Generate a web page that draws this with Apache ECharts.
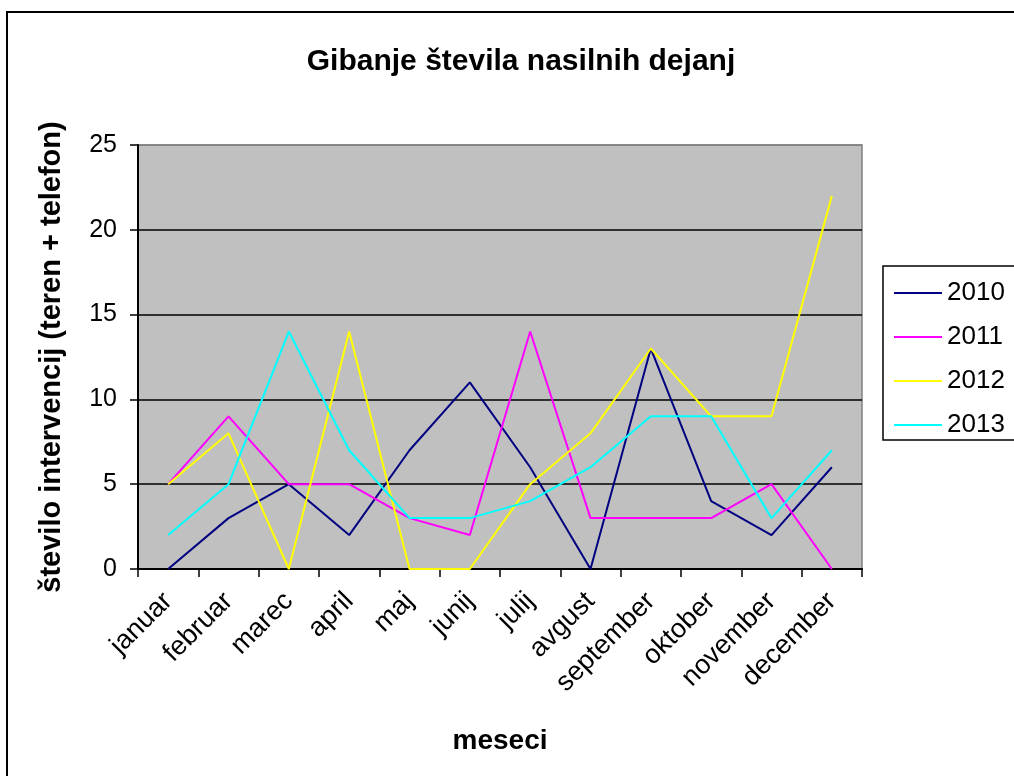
<!DOCTYPE html>
<html>
<head>
<meta charset="utf-8">
<script src="https://cdn.jsdelivr.net/npm/echarts@6/dist/echarts.min.js"></script>
<style>
  html, body { margin: 0; padding: 0; background: #fff; }
  #chart { width: 1014px; height: 776px; }
</style>
</head>
<body>
<div id="chart"></div>
<script>
// months on the x axis
const months = ["januar", "februar", "marec", "april", "maj", "junij", "julij", "avgust", "september", "oktober", "november", "december"];
// values per year
const y2010 = [0, 3, 5, 2, 7, 11, 6, 0, 13, 4, 2, 6];
const y2011 = [5, 9, 5, 5, 3, 2, 14, 3, 3, 3, 5, 0];
const y2012 = [5, 8, 0, 14, 0, 0, 5, 8, 13, 9, 9, 22];
const y2013 = [2, 5, 14, 7, 3, 3, 4, 6, 9, 9, 3, 7];
const years = ["2010", "2011", "2012", "2013"];
const colors = ["#000080", "#FF00FF", "#FFFF00", "#00FFFF"];

const font = "'Liberation Sans', Arial, sans-serif";
const chart = echarts.init(document.getElementById("chart"));

const seriesData = [y2010, y2011, y2012, y2013];

chart.setOption({
  animation: false,
  textStyle: { fontFamily: font },
  title: {
    text: "Gibanje števila nasilnih dejanj",
    left: 516,
    textAlign: "center",
    top: 42,
    textStyle: { fontFamily: font, fontSize: 30, fontWeight: "bold", color: "#000" }
  },
  legend: {
    orient: "vertical",
    left: 894,
    top: 280,
    padding: 0,
    icon: "rect",
    itemWidth: 48,
    itemHeight: 2,
    itemGap: 18,
    data: years,
    textStyle: { fontFamily: font, fontSize: 26, lineHeight: 26, color: "#000" }
  },
  grid: {
    left: 138,
    right: 152,
    top: 145,
    bottom: 207,
    show: true,
    backgroundColor: "#C0C0C0",
    borderColor: "#808080",
    borderWidth: 1.5
  },
  xAxis: {
    type: "category",
    data: months,
    boundaryGap: true,
    name: "meseci",
    nameLocation: "middle",
    nameGap: 158,
    nameTextStyle: { fontFamily: font, fontSize: 28, fontWeight: "bold", color: "#000" },
    axisLine: { lineStyle: { color: "#000", width: 2 } },
    axisTick: { show: true, inside: false, length: 8, alignWithLabel: false, lineStyle: { color: "#000", width: 1.5 } },
    axisLabel: { rotate: 45, margin: 28, fontFamily: font, fontSize: 27, color: "#000", interval: 0 },
    splitLine: { show: false }
  },
  yAxis: {
    type: "value",
    min: 0,
    max: 25,
    interval: 5,
    name: "število intervencij (teren + telefon)",
    nameLocation: "middle",
    nameGap: 72,
    nameTextStyle: { fontFamily: font, fontSize: 29, fontWeight: "bold", color: "#000" },
    axisLine: { show: true, lineStyle: { color: "#000", width: 2 } },
    axisTick: { show: true, inside: false, length: 8, lineStyle: { color: "#000", width: 1.5 } },
    axisLabel: { margin: 21, fontFamily: font, fontSize: 25, color: "#000" },
    splitLine: { show: true, lineStyle: { color: ["#000", "#000", "#000", "#000", "#000", "#808080"], width: 1.5 } }
  },
  graphic: [
    {
      type: "rect",
      shape: { x: 7, y: 12, width: 1100, height: 800 },
      style: { fill: null, stroke: "#000", lineWidth: 2 },
      silent: true
    },
    {
      type: "rect",
      shape: { x: 883, y: 266, width: 200, height: 174 },
      style: { fill: "#fff", stroke: "#000", lineWidth: 1.5 },
      silent: true,
      z: -1
    }
  ],
  series: years.map((y, i) => ({
    name: y,
    type: "line",
    data: seriesData[i],
    symbol: "none",
    showSymbol: false,
    color: colors[i],
    lineStyle: { color: colors[i], width: 2 }
  }))
});
</script>
</body>
</html>
